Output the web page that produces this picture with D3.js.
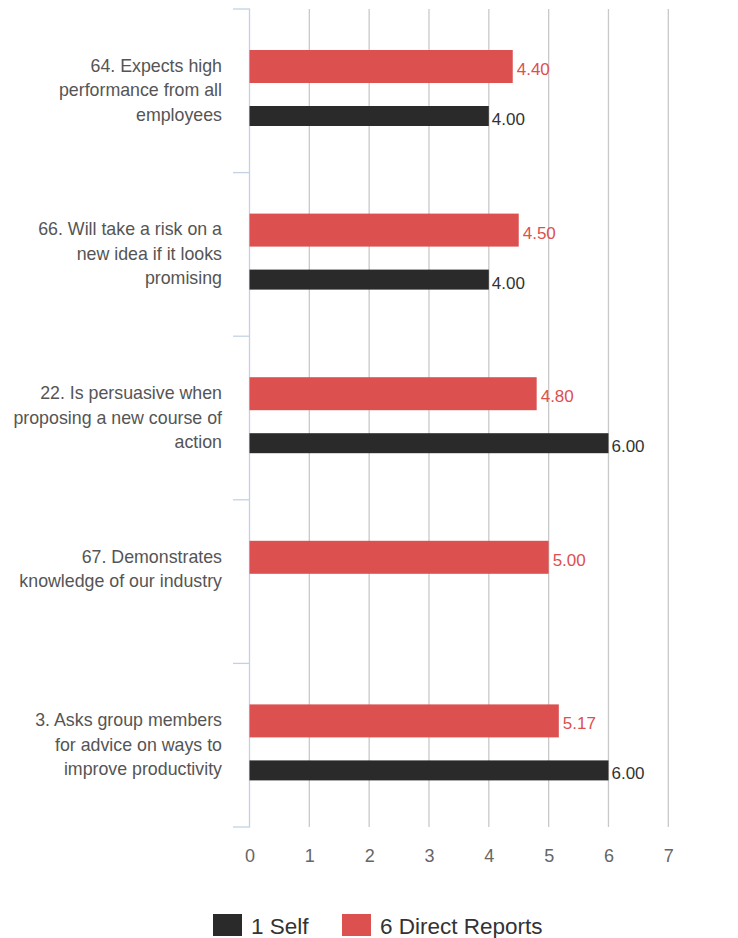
<!DOCTYPE html>
<html>
<head>
<meta charset="utf-8">
<script src="https://cdn.jsdelivr.net/npm/d3@7"></script>
<style>
  html, body { margin: 0; padding: 0; background: #fff; }
  svg { display: block; font-family: "Liberation Sans", Arial, Helvetica, sans-serif; }
</style>
</head>
<body>
<svg id="chart" width="738" height="938"></svg>
<script>
// Survey items (label lines) and average scores per rater group
const categories = [
  ["64. Expects high", "performance from all", "employees"],
  ["66. Will take a risk on a", "new idea if it looks", "promising"],
  ["22. Is persuasive when", "proposing a new course of", "action"],
  ["67. Demonstrates", "knowledge of our industry"],
  ["3. Asks group members", "for advice on ways to", "improve productivity"]
];
const selfScores = [4.00, 4.00, 6.00, null, 6.00];
const directReportScores = [4.40, 4.50, 4.80, 5.00, 5.17];
const xTicks = [0, 1, 2, 3, 4, 5, 6, 7];
const seriesNames = ["1 Self", "6 Direct Reports"];
const seriesColors = ["#2a2a2a", "#dc5050"];

const svg = d3.select("#chart");

const x = d3.scaleLinear().domain([0, 7]).range([249.5, 668.3]);
const y = d3.scaleBand().domain(d3.range(categories.length)).range([9, 827]).paddingInner(0).paddingOuter(0);

// vertical gridlines
svg.append("g").selectAll("line").data(xTicks.filter(d => d > 0)).join("line")
  .attr("x1", d => x(d)).attr("x2", d => x(d))
  .attr("y1", 9).attr("y2", 827)
  .attr("stroke", "#c9c9c9").attr("stroke-width", 1.3);

// category axis with outward ticks at band boundaries
const axisColor = "#c3d2e2";
const bounds = d3.range(categories.length + 1).map(i => 9 + i * y.step());
svg.append("g").selectAll("line").data(bounds).join("line")
  .attr("x1", 233).attr("x2", x(0))
  .attr("y1", d => d).attr("y2", d => d)
  .attr("stroke", axisColor).attr("stroke-width", 1.3);
svg.append("line")
  .attr("x1", x(0)).attr("x2", x(0)).attr("y1", 8.4).attr("y2", 827.6)
  .attr("stroke", axisColor).attr("stroke-width", 1.3);

// category labels
const labelG = svg.append("g");
categories.forEach((lines, i) => {
  const c = y(i) + y.step() / 2;
  const t = labelG.append("text")
    .attr("text-anchor", "end")
    .attr("fill", "#555")
    .style("font-size", "17.8px");
  lines.forEach((ln, j) => {
    t.append("tspan").attr("x", 222).attr("y", c - 19 + j * 24.5).text(ln);
  });
});

// bars: direct reports (upper, thicker) and self (lower, thinner)
const bars = svg.append("g");
bars.selectAll("rect.dr").data(directReportScores).join("rect")
  .attr("class", "dr")
  .attr("x", x(0)).attr("y", (d, i) => y(i) + 41)
  .attr("width", d => x(d) - x(0)).attr("height", 33)
  .attr("fill", seriesColors[1]);
bars.selectAll("rect.self").data(selfScores.map((v, i) => ({ v, i })).filter(d => d.v != null)).join("rect")
  .attr("class", "self")
  .attr("x", x(0)).attr("y", d => y(d.i) + 97)
  .attr("width", d => x(d.v) - x(0)).attr("height", 20)
  .attr("fill", seriesColors[0]);

// value labels
bars.selectAll("text.drv").data(directReportScores).join("text")
  .attr("class", "drv")
  .attr("x", d => x(d) + 4).attr("y", (d, i) => y(i) + 66)
  .attr("fill", seriesColors[1]).style("font-size", "17px")
  .text(d => d.toFixed(2));
bars.selectAll("text.selfv").data(selfScores.map((v, i) => ({ v, i })).filter(d => d.v != null)).join("text")
  .attr("class", "selfv")
  .attr("x", d => x(d.v) + 3).attr("y", d => y(d.i) + 116)
  .attr("fill", "#333").style("font-size", "17px")
  .text(d => d.v.toFixed(2));

// x axis tick labels
const xAxis = d3.axisBottom(x).tickValues(xTicks).tickSize(0).tickPadding(0).tickFormat(d3.format("d"));
const xg = svg.append("g").attr("transform", "translate(0,849)").call(xAxis);
xg.select(".domain").remove();
xg.selectAll("text").attr("fill", "#666").style("font-size", "18px").attr("dy", "0.71em");

// legend
const legend = svg.append("g");
const legendItems = [
  { name: seriesNames[0], color: seriesColors[0], x: 213 },
  { name: seriesNames[1], color: seriesColors[1], x: 342 }
];
legendItems.forEach(it => {
  legend.append("rect").attr("x", it.x).attr("y", 914).attr("width", 29).attr("height", 22).attr("fill", it.color);
  legend.append("text").attr("x", it.x + 38).attr("y", 934)
    .attr("fill", "#333").style("font-size", "22.5px").text(it.name);
});
</script>
</body>
</html>
